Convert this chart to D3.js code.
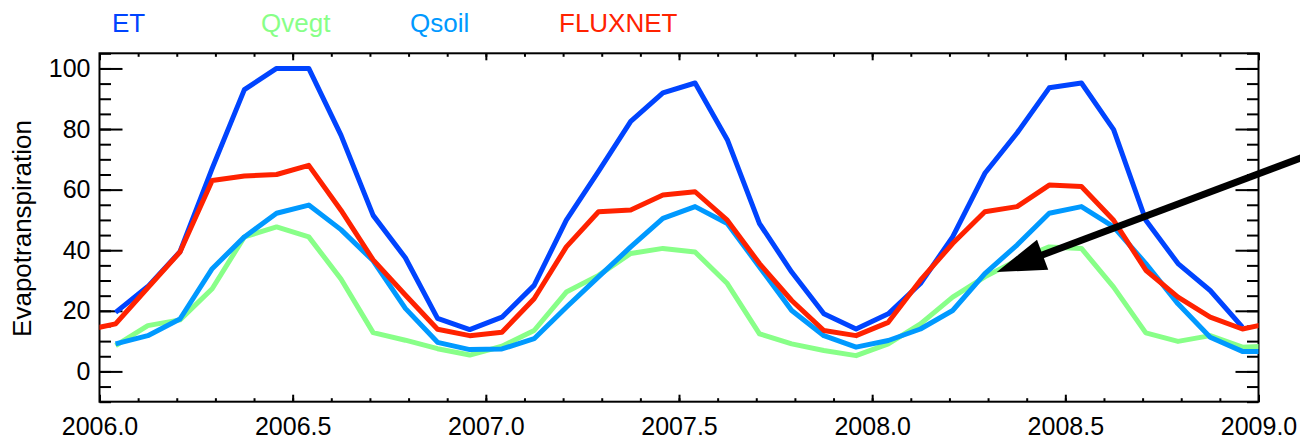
<!DOCTYPE html>
<html>
<head>
<meta charset="utf-8">
<script src="https://cdn.jsdelivr.net/npm/d3@7"></script>
<style>
  body { margin: 0; background: #fff; }
  svg { display: block; font-family: "Liberation Sans", Arial, sans-serif; }
</style>
</head>
<body>
<svg id="chart"></svg>
<script>
// Series names and colours (legend order = drawing order)
const seriesNames = ["ET", "Qvegt", "Qsoil", "FLUXNET"];
const seriesColors = ["#0044ff", "#88ff88", "#0099ff", "#ff2200"];

// Monthly values (mid-month)
// ET: Jan 2006 .. Dec 2008
const etValues = [19.5, 28, 39.5, 67, 93, 100, 100, 78, 51.5, 37.5, 17.5, 13.8,
                  17.9, 28.4, 49.9, 66, 82.5, 91.9, 95.2, 76.5, 48.8, 32.8, 19, 14,
                  19, 29, 44.4, 65.4, 78.7, 93.6, 95.2, 79.8, 49.9, 35.6, 26.7, 14.6];
// Qvegt: Jan 2006 .. Jan 2009
const qvegtValues = [8.5, 15.1, 17, 27.3, 44.4, 47.7, 44.4, 30.5, 12.8, 10.3, 7.5, 5.4,
                     8.3, 13.5, 26.2, 31.7, 38.9, 40.6, 39.4, 29, 12.4, 9.1, 6.9, 5.2,
                     9.1, 15.7, 24.5, 31.2, 36.7, 41.1, 40.6, 27.8, 12.7, 9.9, 11.8, 8, 8.5];
// Qsoil: Jan 2006 .. Jan 2009
const qsoilValues = [9.1, 11.8, 17.3, 33.9, 44.4, 52.2, 54.9, 46.8, 36.5, 20.8, 9.6, 7.2,
                     7.4, 10.8, 21.2, 31.2, 41.1, 50.5, 54.4, 48.8, 34.5, 20.1, 11.8, 8,
                     10.2, 14, 20.1, 32.3, 41.7, 52.2, 54.4, 47.7, 35.6, 22.3, 11.3, 6.6, 6.6];
// FLUXNET: Dec 2005 .. Jan 2009
const fluxnetValues = [13.4, 15.7, 27.6, 39.4, 63, 64.5, 65, 68, 53.2, 36.8, 25.2, 13.9, 11.8,
                       12.9, 24, 41.1, 52.7, 53.3, 58.2, 59.3, 49.9, 35.6, 23.4, 13.5, 11.8,
                       16.2, 30.1, 42.2, 52.7, 54.4, 61.5, 61, 49.9, 33.4, 24.5, 17.9, 14, 16.2];
// first month of each series, counted from Jan 2006
const seriesStart = [0, 0, 0, -1];

// Axis ticks
const xTickValues = [2006.0, 2006.5, 2007.0, 2007.5, 2008.0, 2008.5, 2009.0];
const xTickLabels = ["2006.0", "2006.5", "2007.0", "2007.5", "2008.0", "2008.5", "2009.0"];
const yTickValues = [0, 20, 40, 60, 80, 100];
const yTickLabels = ["0", "20", "40", "60", "80", "100"];

// Arrow annotation in data units (tip, tail)
const arrowTip = [2008.3225, 32.8];
const arrowTail = [2009.21, 75.3];

// Dimensions
const svgWidth = 1300;
const svgHeight = 440;
const plot = { left: 99.5, right: 1258.5, top: 53.3, bottom: 401.7 };

const svg = d3.select("#chart")
    .attr("width", svgWidth)
    .attr("height", svgHeight);

const x = d3.scaleLinear().domain([2006, 2009]).range([plot.left, plot.right]);
const y = d3.scaleLinear().domain([-10, 105]).range([plot.bottom, plot.top]);

const xMinor = d3.range(20060, 20091, 1).map(d => d / 10);
const yMinor = d3.range(-10, 106, 5);

// Helper to style an axis group
function styleAxis(g) {
    g.select(".domain").remove();
    g.attr("font-size", 25)
        .attr("font-family", "Liberation Sans, Arial, sans-serif");
    g.selectAll("line").attr("stroke", "#000").attr("stroke-width", 2);
    g.selectAll("text").attr("fill", "#000");
}

// Minor ticks
svg.append("g").attr("transform", `translate(${plot.left},0)`)
    .call(d3.axisLeft(y).tickValues(yMinor).tickSize(-11.5).tickFormat(""))
    .call(styleAxis);
svg.append("g").attr("transform", `translate(${plot.right},0)`)
    .call(d3.axisRight(y).tickValues(yMinor).tickSize(-11.5).tickFormat(""))
    .call(styleAxis);
svg.append("g").attr("transform", `translate(0,${plot.bottom})`)
    .call(d3.axisBottom(x).tickValues(xMinor).tickSize(-3.5).tickFormat(""))
    .call(styleAxis);
svg.append("g").attr("transform", `translate(0,${plot.top})`)
    .call(d3.axisTop(x).tickValues(xMinor).tickSize(-3.5).tickFormat(""))
    .call(styleAxis);

// Major ticks with labels
svg.append("g").attr("transform", `translate(${plot.left},0)`)
    .call(d3.axisLeft(y).tickValues(yTickValues)
        .tickFormat((d, i) => yTickLabels[i]).tickSize(-23).tickPadding(9))
    .call(styleAxis);
svg.append("g").attr("transform", `translate(${plot.right},0)`)
    .call(d3.axisRight(y).tickValues(yTickValues).tickSize(-23).tickFormat(""))
    .call(styleAxis);
svg.append("g").attr("transform", `translate(0,${plot.bottom})`)
    .call(d3.axisBottom(x).tickValues(xTickValues)
        .tickFormat((d, i) => xTickLabels[i]).tickSize(-7).tickPadding(15.5))
    .call(styleAxis);
svg.append("g").attr("transform", `translate(0,${plot.top})`)
    .call(d3.axisTop(x).tickValues(xTickValues).tickSize(-7).tickFormat(""))
    .call(styleAxis);

// Plot frame
svg.append("rect")
    .attr("x", plot.left)
    .attr("y", plot.top)
    .attr("width", plot.right - plot.left)
    .attr("height", plot.bottom - plot.top)
    .attr("fill", "none")
    .attr("stroke", "#000")
    .attr("stroke-width", 2);

// Clip lines to the plot area
svg.append("clipPath").attr("id", "plot-clip")
    .append("rect")
    .attr("x", plot.left)
    .attr("y", plot.top)
    .attr("width", plot.right - plot.left)
    .attr("height", plot.bottom - plot.top);

const allValues = [etValues, qvegtValues, qsoilValues, fluxnetValues];
const line = d3.line()
    .x(d => x(d.t))
    .y(d => y(d.v));

const linesG = svg.append("g").attr("clip-path", "url(#plot-clip)");
allValues.forEach((values, s) => {
    const pts = values.map((v, i) => ({ t: 2006 + (seriesStart[s] + i + 0.5) / 12, v: v }));
    linesG.append("path")
        .datum(pts)
        .attr("d", line)
        .attr("fill", "none")
        .attr("stroke", seriesColors[s])
        .attr("stroke-width", 5)
        .attr("stroke-linejoin", "round")
        .attr("stroke-linecap", "butt");
});

// Legend across the top
seriesNames.forEach((name, i) => {
    svg.append("text")
        .attr("x", 112 + i * 149)
        .attr("y", 31.5)
        .attr("font-size", 26)
        .attr("fill", seriesColors[i])
        .text(name);
});

// Y axis title
svg.append("text")
    .attr("transform", `translate(31,228.5) rotate(-90)`)
    .attr("text-anchor", "middle")
    .attr("font-size", 26)
    .attr("fill", "#000")
    .text("Evapotranspiration");

// Arrow annotation
const tip = [x(arrowTip[0]), y(arrowTip[1])];
const tail = [x(arrowTail[0]), y(arrowTail[1])];
const len = Math.hypot(tail[0] - tip[0], tail[1] - tip[1]);
const ux = (tail[0] - tip[0]) / len;
const uy = (tail[1] - tip[1]) / len;
const headLen = 49;
const headHalf = 16;
const base = [tip[0] + ux * headLen, tip[1] + uy * headLen];

svg.append("line")
    .attr("x1", tail[0])
    .attr("y1", tail[1])
    .attr("x2", base[0] - ux * 4)
    .attr("y2", base[1] - uy * 4)
    .attr("stroke", "#000")
    .attr("stroke-width", 7);

svg.append("polygon")
    .attr("points", [
        tip,
        [base[0] - uy * headHalf, base[1] + ux * headHalf],
        [base[0] + uy * headHalf, base[1] - ux * headHalf]
    ].map(p => p.join(",")).join(" "))
    .attr("fill", "#000");
</script>
</body>
</html>
